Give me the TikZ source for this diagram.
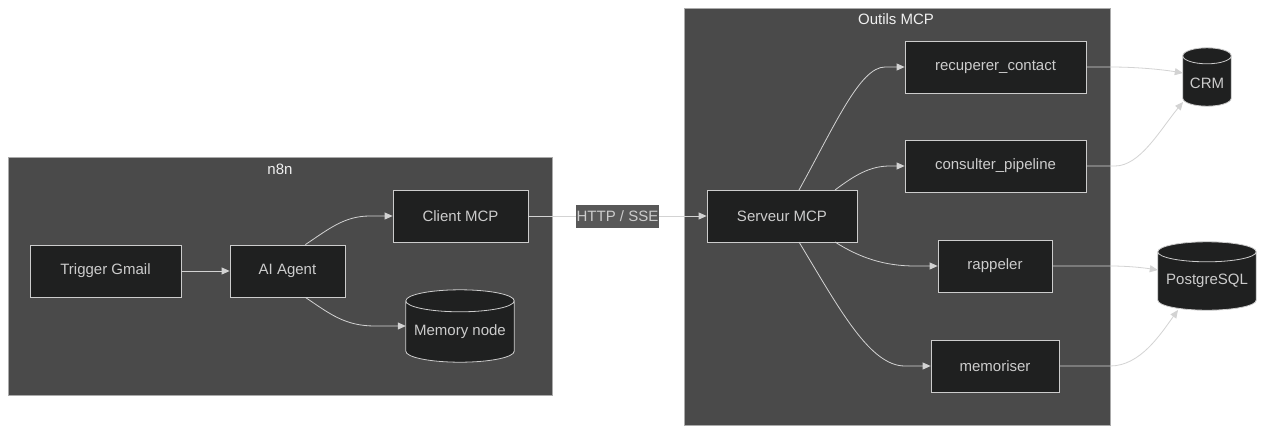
\documentclass[tikz,border=0pt]{standalone}
\usepackage{fontspec}
\setmainfont{Liberation Sans}
\usetikzlibrary{arrows.meta,calc}
\definecolor{clfill}{HTML}{4A4A4A}
\definecolor{clline}{HTML}{AAAAAA}
\definecolor{ndfill}{HTML}{1F2020}
\definecolor{ndline}{HTML}{CCCCCC}
\definecolor{txt}{HTML}{CCCCCC}
\definecolor{ttl}{HTML}{F0F0F0}
\definecolor{edge}{HTML}{D3D3D3}
\definecolor{lblbg}{HTML}{585858}
\tikzset{
  cluster/.style={draw=clline, fill=clfill, line width=0.8pt},
  cltitle/.style={text=ttl, font=\fontsize{15}{18}\selectfont, anchor=center},
  box/.style={draw=ndline, fill=ndfill, line width=0.8pt, text=txt, font=\fontsize{15}{18}\selectfont, inner sep=0pt},
  dbtext/.style={text=txt, font=\fontsize{15}{18}\selectfont, inner sep=0pt},
  conn/.style={draw=edge, line width=0.8pt, -{Triangle[length=8pt,width=7pt]}},
  lbl/.style={fill=lblbg, text=txt, font=\fontsize{15}{18}\selectfont, inner sep=0pt, minimum width=83pt, minimum height=23pt},
}
\newcommand\dbcyl[2]{%
  \path let \p1=(#1.north west), \p2=(#1.south east), \n1={(\x2-\x1)/2} in
    [draw=ndline, fill=ndfill, line width=0.8pt]
    (\x1,\y1-#2pt) -- (\x1,\y2+#2pt) arc[start angle=180,end angle=360,x radius=\n1,y radius=#2pt]
    -- (\x2,\y1-#2pt) arc[start angle=0,end angle=180,x radius=\n1,y radius=#2pt] -- cycle
    (\x1,\y1-#2pt) arc[start angle=180,end angle=360,x radius=\n1,y radius=#2pt];
}
\begin{document}
\begin{tikzpicture}[x=1pt,y=1pt]
\useasboundingbox (0,0) rectangle (1264,-434);
\fill[white] (0,0) rectangle (1264,-434);
% clusters
\draw[cluster] (8,-157) rectangle (552,-395);
\node[cltitle] (t1) at (280,-169) {n8n};
\draw[cluster] (684,-8) rectangle (1110,-425);
\node[cltitle] (t2) at (896,-19) {Outils MCP};
% nodes
\node[box, minimum width=151pt, minimum height=52pt] (trig) at (105.5,-271) {Trigger Gmail};
\node[box, minimum width=115pt, minimum height=52pt] (agent) at (287.5,-271) {AI Agent};
\node[box, minimum width=135pt, minimum height=52pt] (client) at (460.5,-216) {Client MCP};
\node[dbtext, minimum width=108pt, minimum height=72pt] (mem) at (460,-326) {};
\node[box, minimum width=150pt, minimum height=52pt] (serv) at (782,-216) {Serveur MCP};
\node[box, minimum width=181pt, minimum height=52pt] (rec) at (995.5,-67) {recuperer\_contact};
\node[box, minimum width=181pt, minimum height=52pt] (cons) at (995.5,-166) {consulter\_pipeline};
\node[box, minimum width=114pt, minimum height=52pt] (rap) at (995,-266) {rappeler};
\node[box, minimum width=128pt, minimum height=52pt] (memo) at (995,-366) {memoriser};
\node[dbtext, minimum width=48pt, minimum height=58pt] (crm) at (1207,-77) {};
\node[dbtext, minimum width=98pt, minimum height=68pt] (pg) at (1207,-276) {};
\dbcyl{mem}{11}
\dbcyl{crm}{8}
\dbcyl{pg}{10}
\node[dbtext] at ($(mem.center)+(0,-6)$) {Memory node};
\node[dbtext] at ($(crm.center)+(0,-6)$) {CRM};
\node[dbtext] at ($(pg.center)+(0,-5)$) {PostgreSQL};
% edges
\draw[conn] (trig.east) -- (agent.west);
\draw[conn] (agent.north east) ++(-40,0) .. controls (330,-228) and (345,-216) .. (370,-216) -- (client.west);
\draw[conn] (agent.south east) ++(-40,0) .. controls (330,-314) and (345,-326) .. (375,-326) -- (mem.west);
\draw[conn] (client.east) -- (serv.west);
\node[lbl] (http) at (617.5,-216.5) {HTTP / SSE};
\draw[conn] (799,-190) .. controls (835,-125) and (860,-67) .. (885,-67) -- (rec.west);
\draw[conn] (835,-190) .. controls (855,-175) and (870,-166) .. (890,-166) -- (cons.west);
\draw[conn] (835,-242) .. controls (860,-258) and (885,-266) .. (915,-266) -- (rap.west);
\draw[conn] (799,-242) .. controls (840,-310) and (870,-366) .. (905,-366) -- (memo.west);
\draw[conn] (rec.east) -- (1110,-67) .. controls (1140,-67) and (1165,-70) .. (crm.west |- 0,-73);
\draw[conn] (cons.east) -- (1115,-166) .. controls (1140,-166) and (1160,-130) .. (1183,-102);
\draw[conn] (rap.east) -- (1110,-266) .. controls (1130,-266) and (1145,-268) .. (pg.west |- 0,-270);
\draw[conn] (memo.east) -- (1110,-366) .. controls (1140,-366) and (1160,-335) .. (1178,-310);
\end{tikzpicture}
\end{document}
